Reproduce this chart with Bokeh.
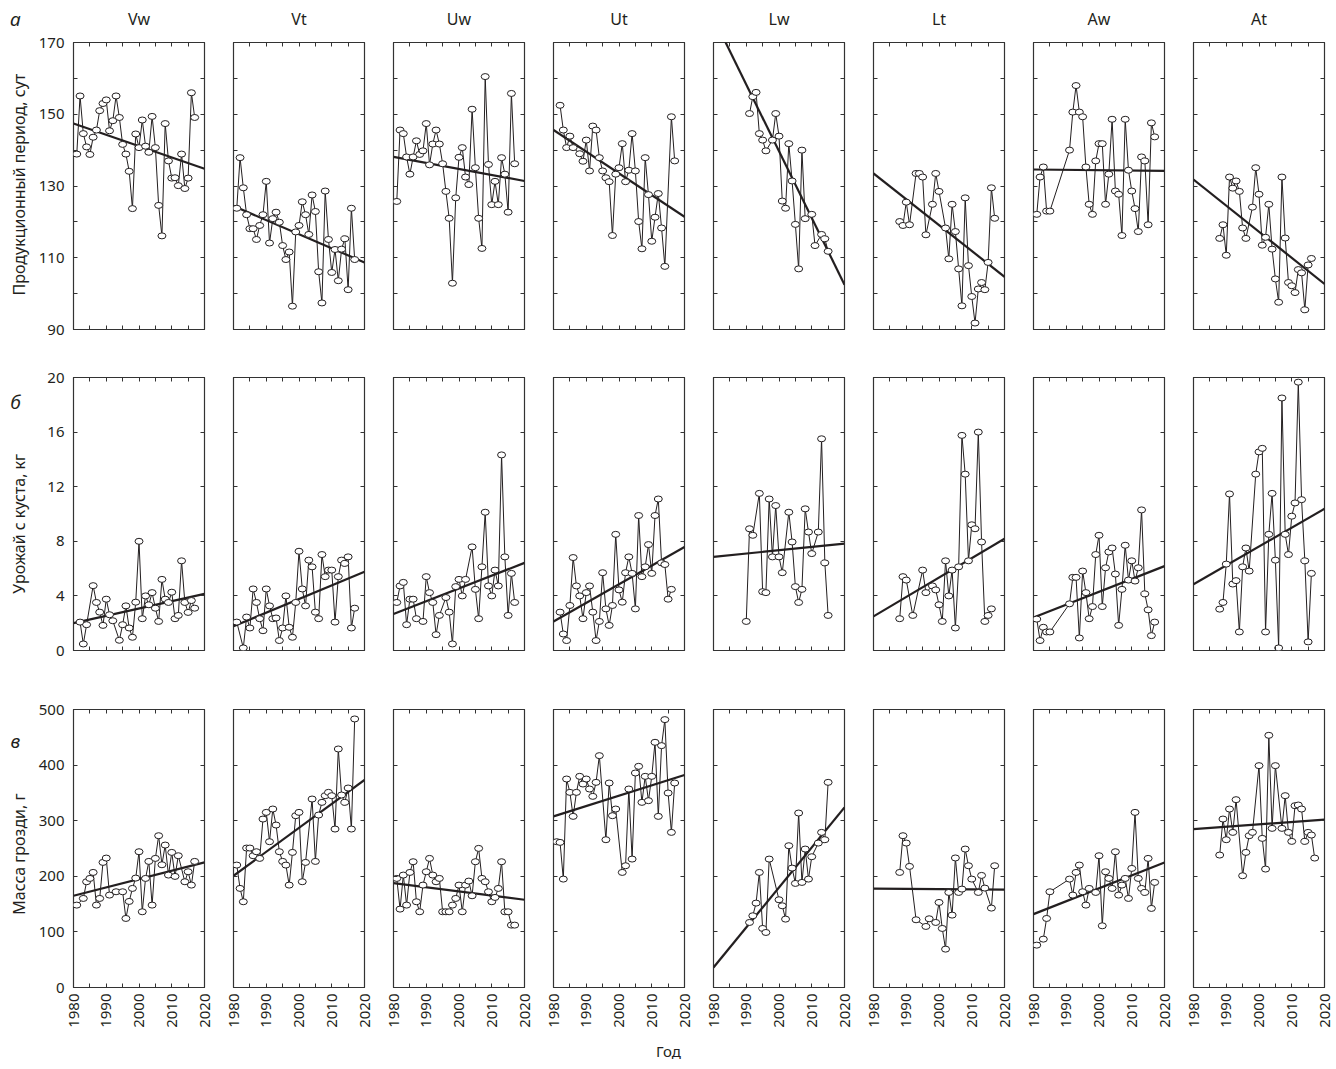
import math
from bokeh.plotting import figure
from bokeh.models import Range1d, FixedTicker, LinearAxis
from bokeh.core.properties import value
from bokeh.layouts import row, column
from bokeh.embed import file_html
from bokeh.resources import INLINE

# ---------------- labels ----------------
cultivars = ["Vw", "Vt", "Uw", "Ut", "Lw", "Lt", "Aw", "At"]
row_letters = ["а", "б", "в"]
row_titles = ["Продукционный период, сут", "Урожай с куста, кг", "Масса грозди, г"]
x_title = "Год"

x_major = [1980, 1990, 2000, 2010, 2020]
x_minor = [1985, 1995, 2005, 2015]
y_limits = [(90, 170), (0, 20), (0, 500)]
y_major = [[90, 110, 130, 150, 170], [0, 4, 8, 12, 16, 20], [0, 100, 200, 300, 400, 500]]
y_minor = [[100, 120, 140, 160], [], []]

# ---------------- row а: production period, days ----------------
yr_a_Vw = list(range(1981, 2018))
a_Vw = [138.9, 155.1, 144.6, 140.9, 138.8, 143.6, 145.6, 151.0, 153.0, 154.0, 145.4, 148.2, 155.1, 149.1,
        141.6, 138.9, 134.1, 123.7, 144.5, 140.7, 148.4, 141.1, 139.4, 149.4, 140.7, 124.6, 116.1, 147.4,
        137.0, 132.2, 132.3, 130.1, 138.9, 129.3, 132.2, 156.0, 149.1]
yr_a_Vt = list(range(1981, 2018))
a_Vt = [123.8, 137.9, 129.5, 122.0, 118.1, 118.1, 115.1, 119.0, 122.0, 131.3, 114.1, 120.9, 122.7, 119.9,
        113.4, 109.5, 111.6, 96.5, 117.2, 119.0, 125.6, 122.0, 116.5, 127.5, 122.9, 106.1, 97.4, 128.6,
        115.1, 105.9, 112.3, 103.6, 112.4, 115.3, 101.1, 123.8, 109.5]
yr_a_Uw = list(range(1981, 2018))
a_Uw = [125.7, 145.6, 144.6, 138.1, 133.3, 138.1, 142.6, 138.8, 139.8, 147.4, 135.9, 141.7, 145.6, 141.7,
        136.2, 128.5, 121.0, 102.9, 126.7, 138.0, 140.7, 132.5, 130.4, 151.4, 135.1, 121.0, 112.6, 160.5,
        136.0, 124.8, 131.3, 124.8, 137.9, 133.3, 122.7, 155.8, 136.2]
yr_a_Ut = [1982, 1983, 1984, 1985, 1986] + list(range(1988, 2015)) + [2016, 2017]
a_Ut = [152.5, 145.6, 140.7, 143.9, 140.7, 139.0, 136.9, 142.8, 134.2, 146.7, 145.6, 137.9, 134.2, 132.3,
        131.2, 116.2, 133.3, 135.1, 141.8, 131.2, 134.4, 144.6, 134.2, 120.1, 112.5, 137.9, 127.6, 114.6,
        121.3, 127.9, 118.3, 107.6, 149.3, 137.0]
yr_a_Lw = [1991, 1992, 1993, 1994, 1995, 1996, 1998, 1999, 2000, 2001, 2002, 2003, 2004, 2005, 2006,
           2007, 2008, 2010, 2011, 2013, 2014, 2015]
a_Lw = [150.2, 154.9, 156.1, 144.6, 142.8, 139.8, 142.8, 150.2, 143.9, 125.8, 123.8, 141.8, 131.4, 119.3,
        106.9, 140.0, 120.9, 122.1, 113.4, 116.5, 115.3, 111.8]
yr_a_Lt = [1988, 1989, 1990, 1991, 1993, 1994, 1995, 1996, 1998, 1999, 2000] + list(range(2002, 2018))
a_Lt = [120.1, 119.0, 125.5, 119.2, 133.5, 133.5, 132.5, 116.4, 124.9, 133.5, 128.5, 118.3, 109.7, 124.9,
        117.3, 106.9, 96.6, 126.7, 107.8, 99.2, 91.8, 101.3, 103.1, 101.1, 108.7, 129.5, 121.0]
yr_a_Aw = list(range(1981, 1986)) + list(range(1991, 2018))
a_Aw = [122.1, 132.5, 135.3, 123.0, 123.0, 140.0, 150.6, 158.0, 150.6, 149.3, 135.3, 124.9, 122.1, 137.0,
        141.8, 141.8, 124.9, 133.3, 148.6, 128.6, 127.7, 116.2, 148.6, 134.4, 128.6, 123.7, 117.3, 138.1,
        137.0, 119.2, 147.6, 143.7]
yr_a_At = list(range(1988, 1997)) + list(range(1998, 2017))
a_At = [115.4, 119.2, 110.7, 132.5, 129.4, 131.4, 128.5, 118.3, 115.4, 124.1, 135.1, 127.7, 113.5, 115.7,
        124.9, 112.4, 104.1, 97.6, 132.5, 115.5, 103.1, 102.2, 100.3, 106.7, 105.8, 95.5, 108.0, 109.8]
# trend values at 1980 and at 2020
trend_a_start = [147.4, 124.4, 138.1, 145.6, 176.9, 133.5, 134.6, 131.8]
trend_a_end = [134.8, 108.7, 131.4, 121.4, 102.5, 104.7, 134.2, 102.7]

# ---------------- row б: yield per bush, kg ----------------
yr_b_Vw = [1982, 1983, 1984] + list(range(1986, 1993)) + list(range(1994, 2018))
b_Vw = [2.08, 0.48, 1.89, 4.75, 3.52, 2.81, 1.84, 3.76, 2.62, 2.18, 0.75, 1.89, 3.27, 1.65, 0.97, 3.54,
        8.00, 2.33, 4.00, 3.35, 4.24, 3.10, 2.13, 5.21, 3.76, 3.52, 4.27, 2.33, 2.57, 6.57, 3.52, 2.79,
        3.66, 3.10]
yr_b_Vt = [1981] + list(range(1983, 2018))
b_Vt = [2.08, 0.19, 2.45, 1.65, 4.51, 3.52, 2.33, 1.45, 4.51, 3.27, 2.33, 2.38, 0.73, 1.65, 4.00, 1.70,
        0.97, 3.52, 7.27, 4.51, 3.27, 6.62, 6.13, 2.81, 2.33, 7.03, 5.41, 5.89, 5.89, 2.08, 5.41, 6.62,
        6.38, 6.86, 1.65, 3.10]
yr_b_Uw = list(range(1981, 1988)) + list(range(1989, 1995)) + list(range(1996, 2003)) + list(range(2004, 2018))
b_Uw = [3.52, 4.73, 4.99, 1.89, 3.76, 3.76, 2.33, 2.13, 5.41, 4.24, 3.52, 1.16, 2.57, 3.88, 2.81, 0.48,
        4.68, 5.21, 4.00, 5.21, 7.59, 4.48, 2.33, 6.13, 10.13, 4.73, 4.00, 5.89, 4.73, 14.33, 6.86, 2.57,
        5.65, 3.52]
yr_b_Ut = list(range(1982, 2017))
b_Ut = [2.81, 1.21, 0.73, 3.30, 6.81, 4.73, 4.00, 2.33, 4.24, 4.73, 2.81, 0.73, 2.13, 5.70, 3.05, 1.84,
        3.30, 8.51, 4.44, 3.54, 5.70, 6.86, 5.65, 3.05, 9.89, 5.41, 6.13, 7.76, 5.65, 9.89, 11.10, 6.42,
        6.30, 3.76, 4.48]
yr_b_Lw = [1990, 1991, 1992, 1994, 1995, 1996, 1997, 1998, 1999, 2000, 2001, 2003, 2004, 2005, 2006,
           2007, 2008, 2009, 2010, 2012, 2013, 2014, 2015]
b_Lw = [2.13, 8.92, 8.44, 11.51, 4.31, 4.24, 11.10, 6.86, 10.62, 6.86, 5.70, 10.13, 7.95, 4.68, 3.52,
        4.48, 10.38, 8.68, 7.10, 8.68, 15.51, 6.42, 2.57]
yr_b_Lt = [1988, 1989, 1990, 1992, 1995, 1996] + list(range(1998, 2017))
b_Lt = [2.33, 5.41, 5.16, 2.57, 5.89, 4.24, 4.73, 4.44, 3.35, 2.13, 6.57, 4.00, 5.89, 1.65, 6.13, 15.76,
        12.92, 6.57, 9.21, 8.92, 16.00, 7.95, 2.13, 2.57, 3.05]
yr_b_Aw = list(range(1981, 1986)) + list(range(1991, 2018))
b_Aw = [2.30, 0.73, 1.70, 1.36, 1.36, 3.42, 5.36, 5.36, 0.92, 5.82, 4.24, 2.33, 3.22, 7.03, 8.44, 3.22,
        6.06, 7.22, 7.51, 5.60, 1.84, 4.48, 7.71, 5.16, 6.57, 5.09, 6.06, 10.30, 4.15, 2.98, 1.09, 2.08]
yr_b_At = list(range(1988, 1998)) + list(range(1999, 2017))
b_At = [3.03, 3.52, 6.33, 11.47, 4.87, 5.12, 1.36, 6.13, 7.51, 5.82, 12.92, 14.55, 14.81, 1.36, 8.51,
        11.51, 6.62, 0.19, 18.50, 8.51, 7.03, 9.84, 10.81, 19.66, 11.05, 6.57, 0.63, 5.65]
trend_b_start = [2.01, 1.77, 2.67, 2.13, 6.86, 2.50, 2.42, 4.85]
trend_b_end = [4.15, 5.77, 6.42, 7.59, 7.83, 8.19, 6.18, 10.38]

# ---------------- row в: bunch mass, g ----------------
yr_c_Vw = [1981] + list(range(1983, 1992)) + [1993] + list(range(1995, 2013)) + list(range(2014, 2018))
c_Vw = [148.2, 160.2, 190.2, 196.2, 207.0, 148.2, 160.2, 225.0, 232.8, 166.2, 172.2, 172.2, 124.2, 154.8,
        178.2, 196.8, 244.2, 136.2, 196.2, 226.8, 148.2, 232.2, 273.0, 220.8, 256.2, 202.2, 243.0, 199.8,
        237.0, 190.2, 208.2, 184.2, 226.8]
yr_c_Vt = list(range(1981, 2003)) + list(range(2004, 2018))
c_Vt = [220.2, 178.2, 154.2, 250.8, 250.8, 237.0, 244.2, 232.2, 303.0, 315.0, 262.2, 321.0, 292.2, 244.2,
        226.8, 220.2, 184.2, 243.0, 309.0, 315.0, 190.2, 225.0, 339.0, 226.8, 310.2, 333.0, 345.0, 351.0,
        345.0, 285.0, 429.0, 346.2, 333.0, 358.8, 285.0, 483.0]
yr_c_Uw = list(range(1981, 2018))
c_Uw = [196.2, 141.0, 202.2, 148.2, 207.0, 226.2, 154.2, 136.2, 184.2, 208.2, 232.2, 202.2, 190.2, 196.2,
        136.2, 136.2, 136.2, 148.2, 160.2, 184.2, 136.2, 184.2, 191.4, 165.0, 226.2, 250.2, 196.2, 190.2,
        172.2, 154.2, 162.0, 178.2, 226.2, 136.2, 136.2, 112.2, 112.2]
yr_c_Ut = list(range(1981, 1995)) + list(range(1996, 2000)) + list(range(2001, 2018))
c_Ut = [262.2, 261.0, 195.0, 375.0, 351.0, 307.8, 351.0, 379.8, 366.0, 375.0, 357.0, 343.8, 369.0, 417.0,
        265.8, 367.8, 309.0, 321.0, 207.0, 219.0, 357.0, 231.0, 385.8, 397.8, 333.0, 379.8, 336.0, 379.8,
        441.0, 307.8, 435.0, 481.8, 349.8, 279.0, 367.8]
yr_c_Lw = list(range(1991, 1998)) + list(range(2000, 2011)) + list(range(2012, 2016))
c_Lw = [117.0, 129.0, 151.8, 207.0, 106.2, 99.0, 231.0, 157.8, 147.0, 123.0, 255.0, 214.8, 187.2, 313.8,
        189.0, 249.0, 195.0, 235.2, 259.8, 279.0, 265.8, 369.0]
yr_c_Lt = [1988, 1989, 1990, 1991, 1993, 1996, 1997] + list(range(1999, 2011)) + [2012, 2013, 2014, 2016, 2017]
c_Lt = [207.0, 273.0, 259.8, 217.8, 121.8, 109.8, 123.6, 117.0, 153.0, 106.2, 69.0, 171.0, 130.2, 233.0,
        171.0, 177.0, 249.0, 219.0, 195.0, 171.0, 201.6, 178.8, 142.8, 219.0]
yr_c_Aw = [1981, 1983, 1984, 1985] + list(range(1991, 1998)) + list(range(1999, 2018))
c_Aw = [76.2, 87.0, 124.2, 172.2, 195.0, 166.2, 207.0, 220.2, 172.2, 148.2, 178.2, 171.0, 237.0, 111.0,
        208.2, 196.2, 178.2, 244.2, 166.2, 184.2, 196.2, 160.2, 214.2, 315.0, 196.2, 178.2, 171.0, 232.2,
        142.2, 189.0]
yr_c_At = list(range(1988, 1994)) + list(range(1995, 1999)) + list(range(2000, 2006)) + list(range(2007, 2018))
c_At = [238.2, 303.0, 265.8, 321.0, 279.0, 337.8, 201.0, 243.0, 273.0, 279.0, 399.0, 268.2, 213.0, 453.6,
        286.2, 399.0, 286.2, 345.0, 279.0, 262.8, 327.0, 328.2, 321.0, 262.8, 279.0, 274.2, 232.8]
trend_c_start = [165.0, 201.0, 187.8, 307.8, 36.0, 178.0, 132.0, 285.0]
trend_c_end = [225.0, 373.2, 157.8, 382.2, 324.0, 176.0, 225.0, 301.8]

rows_data = [
    [(yr_a_Vw, a_Vw), (yr_a_Vt, a_Vt), (yr_a_Uw, a_Uw), (yr_a_Ut, a_Ut),
     (yr_a_Lw, a_Lw), (yr_a_Lt, a_Lt), (yr_a_Aw, a_Aw), (yr_a_At, a_At)],
    [(yr_b_Vw, b_Vw), (yr_b_Vt, b_Vt), (yr_b_Uw, b_Uw), (yr_b_Ut, b_Ut),
     (yr_b_Lw, b_Lw), (yr_b_Lt, b_Lt), (yr_b_Aw, b_Aw), (yr_b_At, b_At)],
    [(yr_c_Vw, c_Vw), (yr_c_Vt, c_Vt), (yr_c_Uw, c_Uw), (yr_c_Ut, c_Ut),
     (yr_c_Lw, c_Lw), (yr_c_Lt, c_Lt), (yr_c_Aw, c_Aw), (yr_c_At, c_At)],
]
trends = [(trend_a_start, trend_a_end), (trend_b_start, trend_b_end), (trend_c_start, trend_c_end)]

for rr in rows_data:
    for yrs, vals in rr:
        assert len(yrs) == len(vals), (len(yrs), len(vals))

# ---------------- styling / layout ----------------
TXT = "#231f20"
FONT = "Noto Sans"
FRAME_W = 131
FRAME_H = [287, 273, 278]
BORDER_TOP = [12, 34, 45]
BORDER_BOTTOM = [14, 14, 48]
HEAD_H = 30           # strip above row а holding the cultivar names
STRIP_W = 33          # left strip holding the row letter and the rotated row title
FIRST_LEFT = 40
GAP_L, GAP_R = 15, 14
LAST_RIGHT = 12
LETTER_FROM_TOP = [None, 29, 42]
ROW_TITLE_FROM_TOP = [155, 172, 193]


def style_axis(ax, major, minor, show_labels=False, standoff=0, orientation=None):
    ax.ticker = FixedTicker(ticks=major, minor_ticks=minor)
    ax.axis_line_color = None
    ax.major_tick_in = 4
    ax.major_tick_out = 0
    ax.minor_tick_in = 4
    ax.minor_tick_out = 0
    ax.major_tick_line_color = "#333333"
    ax.minor_tick_line_color = "#333333"
    ax.major_tick_line_width = 1
    ax.minor_tick_line_width = 1
    if show_labels:
        ax.major_label_text_font = FONT
        ax.major_label_text_font_size = "15px"
        ax.major_label_text_color = TXT
        ax.major_label_standoff = standoff
        if orientation is not None:
            ax.major_label_orientation = orientation
    else:
        ax.major_label_overrides = {t: "" for t in major}
        ax.major_label_text_font_size = "1px"
        ax.major_label_text_color = None
        ax.major_label_standoff = 0


def make_panel(r, c):
    years, vals = rows_data[r][c]
    lo, hi = y_limits[r]
    p = figure(title=None, frame_width=FRAME_W, frame_height=FRAME_H[r],
               x_range=Range1d(1980, 2020), y_range=Range1d(lo, hi),
               output_backend="svg", toolbar_location=None,
               min_border_left=FIRST_LEFT if c == 0 else GAP_L,
               min_border_right=LAST_RIGHT if c == 7 else GAP_R,
               min_border_top=BORDER_TOP[r], min_border_bottom=BORDER_BOTTOM[r],
               background_fill_color="white", border_fill_color="white")
    p.grid.visible = False
    p.outline_line_color = "#333333"
    p.outline_line_width = 1.2

    style_axis(p.xaxis[0], x_major, x_minor, show_labels=(r == 2), standoff=6,
               orientation=math.pi / 2)
    style_axis(p.yaxis[0], y_major[r], y_minor[r], show_labels=(c == 0), standoff=9)
    top_ax = LinearAxis()
    style_axis(top_ax, x_major, x_minor)
    p.add_layout(top_ax, "above")
    right_ax = LinearAxis()
    style_axis(right_ax, y_major[r], y_minor[r])
    p.add_layout(right_ax, "right")

    t0, t1 = trends[r][0][c], trends[r][1][c]
    p.line([1980, 2020], [t0, t1], line_color=TXT, line_width=2.2)
    p.line(years, vals, line_color=TXT, line_width=1)
    p.ellipse(x=years, y=vals, width=8, height=6, width_units="screen", height_units="screen",
              fill_color="white", line_color=TXT, line_width=1)
    return p


def blank_figure(w, h):
    s = figure(title=None, width=w, height=h, x_range=Range1d(0, w), y_range=Range1d(0, h),
               output_backend="svg", toolbar_location=None, min_border=0,
               x_axis_location=None, y_axis_location=None)
    s.grid.visible = False
    s.outline_line_color = None
    return s


def make_strip(r):
    h = BORDER_TOP[r] + FRAME_H[r] + BORDER_BOTTOM[r]
    s = blank_figure(STRIP_W, h)
    if LETTER_FROM_TOP[r] is not None:
        s.text(x=[15], y=[h - LETTER_FROM_TOP[r]], text=[row_letters[r]], text_align="center",
               text_baseline="middle", text_font=value(FONT), text_font_size=value("19px"),
               text_font_style="italic", text_color=TXT)
    s.text(x=[18], y=[h - ROW_TITLE_FROM_TOP[r]], text=[row_titles[r]], angle=math.pi / 2,
           text_align="center", text_baseline="middle", text_font=value(FONT),
           text_font_size=value("16px"), text_color=TXT)
    return s


total_w = (STRIP_W + (FIRST_LEFT + FRAME_W + GAP_R) + 6 * (GAP_L + FRAME_W + GAP_R)
           + (GAP_L + FRAME_W + LAST_RIGHT))

# header: row letter а and the cultivar names centred over the panel frames
head = blank_figure(total_w, HEAD_H)
first_center = STRIP_W + FIRST_LEFT + FRAME_W / 2
step = GAP_R + GAP_L + FRAME_W
head.text(x=[first_center + step * i for i in range(8)], y=[HEAD_H - 18] * 8, text=cultivars,
          text_align="center", text_baseline="middle", text_font=value(FONT),
          text_font_size=value("16px"), text_color=TXT)
head.text(x=[15], y=[HEAD_H - 18], text=[row_letters[0]], text_align="center",
          text_baseline="middle", text_font=value(FONT), text_font_size=value("19px"),
          text_font_style="italic", text_color=TXT)

rows = [head]
for r in range(3):
    rows.append(row(make_strip(r), *[make_panel(r, c) for c in range(8)]))

bottom = blank_figure(total_w, 24)
bottom.text(x=[668], y=[9], text=[x_title], text_align="center", text_baseline="middle",
            text_font=value(FONT), text_font_size=value("15px"), text_color=TXT)
rows.append(bottom)

layout = column(*rows)

with open("out.html", "w") as f:
    f.write(file_html(layout, INLINE, title="chart"))
